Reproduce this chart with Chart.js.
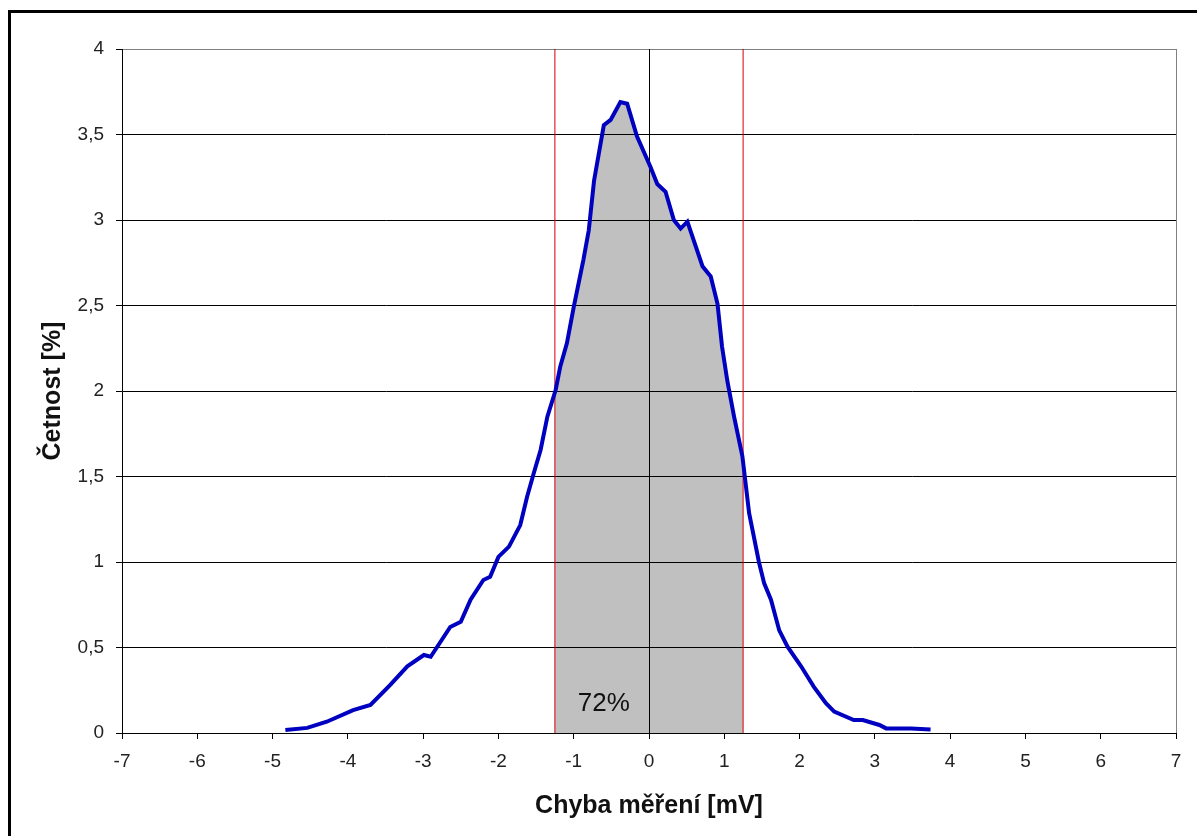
<!DOCTYPE html>
<html>
<head>
<meta charset="utf-8">
<script src="https://cdn.jsdelivr.net/npm/chart.js@4.4.0/dist/chart.umd.min.js"></script>
<style>
html, body { margin: 0; padding: 0; background: #fff; overflow: hidden; }
#wrap { position: relative; width: 1197px; height: 836px; }
#frame { position: absolute; left: 8px; top: 10px; width: 1200px; height: 840px; border: 3px solid #000; box-sizing: border-box; }
#graf { position: absolute; left: 0; top: 0; }
</style>
</head>
<body>
<div id="wrap">
  <div id="frame"></div>
  <canvas id="graf" width="1197" height="836"></canvas>
</div>
<script>
// Histogram chyby měření
const chyba = [-4.83, -4.54, -4.28, -3.93, -3.70, -3.44, -3.21, -2.99, -2.90, -2.64, -2.50, -2.37, -2.20, -2.11,
  -2.00, -1.86, -1.71, -1.62, -1.53, -1.44, -1.35, -1.24, -1.18, -1.09, -1.00, -0.87, -0.80, -0.73, -0.60,
  -0.51, -0.38, -0.29, -0.16, 0.02, 0.11, 0.22, 0.33, 0.42, 0.51, 0.71, 0.82, 0.91, 0.97, 1.04, 1.13, 1.24,
  1.33, 1.46, 1.53, 1.62, 1.73, 1.84, 2.02, 2.19, 2.35, 2.46, 2.72, 2.84, 3.06, 3.15, 3.48, 3.74];
const cetnost = [0.018, 0.03, 0.066, 0.134, 0.164, 0.28, 0.39, 0.456, 0.446, 0.62, 0.65, 0.78, 0.895, 0.914,
  1.03, 1.09, 1.216, 1.38, 1.52, 1.655, 1.85, 2.006, 2.14, 2.28, 2.49, 2.77, 2.94, 3.23, 3.555,
  3.585, 3.69, 3.68, 3.49, 3.31, 3.21, 3.165, 3.0, 2.95, 2.99, 2.73, 2.67, 2.51, 2.26, 2.06, 1.85, 1.62,
  1.285, 1.0, 0.875, 0.78, 0.60, 0.505, 0.39, 0.27, 0.174, 0.125, 0.076, 0.076, 0.047, 0.027, 0.027, 0.02];
const pasmo = [-1.25, 1.25];          // hranice vyznačeného pásma
const popisek = { text: '72%', x: -0.6, y: 0.17 };
const yPopisky = ['0', '0,5', '1', '1,5', '2', '2,5', '3', '3,5', '4'];

const body = chyba.map((x, i) => ({ x: x, y: cetnost[i] }));
const pismo = "'Liberation Sans', Arial, sans-serif";

const pasmoPlugin = {
  id: 'pasmo',
  beforeDraw(chart) {
    const { ctx, chartArea: a } = chart;
    ctx.save();
    ctx.fillStyle = '#fff';
    ctx.fillRect(a.left, a.top, a.right - a.left, a.bottom - a.top);
    ctx.strokeStyle = '#808080';
    ctx.lineWidth = 1;
    ctx.strokeRect(a.left + 0.5, a.top + 0.5, a.right - a.left, a.bottom - a.top);
    ctx.restore();
  },
  beforeDatasetsDraw(chart) {
    const { ctx, chartArea: a, scales } = chart;
    const x0 = scales.x.getPixelForValue(pasmo[0]);
    const x1 = scales.x.getPixelForValue(pasmo[1]);
    ctx.save();
    ctx.beginPath();
    ctx.rect(x0, a.top, x1 - x0, a.bottom - a.top);
    ctx.clip();
  },
  afterDatasetDraw(chart, args) {
    if (args.index !== 3) return;
    const { ctx, chartArea: a, scales } = chart;
    ctx.restore();
    // mřížka přes šedou plochu
    const x0 = scales.x.getPixelForValue(pasmo[0]);
    const x1 = scales.x.getPixelForValue(pasmo[1]);
    ctx.save();
    ctx.beginPath();
    ctx.rect(x0, a.top, x1 - x0, a.bottom - a.top);
    ctx.clip();
    scales.y.drawGrid(a);
    scales.x.drawGrid(a);
    ctx.restore();
  },
  afterDatasetsDraw(chart) {
    const { ctx, scales } = chart;
    ctx.save();
    ctx.font = '26px ' + pismo;
    ctx.fillStyle = '#111';
    ctx.textAlign = 'center';
    ctx.textBaseline = 'middle';
    ctx.fillText(popisek.text, scales.x.getPixelForValue(popisek.x), scales.y.getPixelForValue(popisek.y));
    ctx.restore();
  }
};

new Chart(document.getElementById('graf'), {
  type: 'scatter',
  data: {
    datasets: [
      { data: body, showLine: true, borderColor: '#0000c0', borderWidth: 4, pointRadius: 0, fill: false, tension: 0 },
      { data: [{ x: pasmo[0], y: 0 }, { x: pasmo[0], y: 4 }], showLine: true, borderColor: '#d00000', borderWidth: 1, pointRadius: 0 },
      { data: [{ x: pasmo[1], y: 0 }, { x: pasmo[1], y: 4 }], showLine: true, borderColor: '#d00000', borderWidth: 1, pointRadius: 0 },
      { data: body, showLine: true, borderWidth: 0, borderColor: 'rgba(0,0,0,0)', backgroundColor: '#c0c0c0', pointRadius: 0, fill: 'origin', tension: 0 }
    ]
  },
  options: {
    responsive: false,
    animation: false,
    devicePixelRatio: 1,
    layout: { padding: { left: 36, top: 49, right: 21, bottom: 14 } },
    plugins: { legend: { display: false }, tooltip: { enabled: false } },
    scales: {
      x: {
        type: 'linear', min: -7, max: 7,
        afterFit(s) { s.height = 836 - 14 - 733; },
        ticks: { stepSize: 1, color: '#222', padding: 11, font: { family: pismo, size: 19 } },
        grid: {
          color: c => (c.tick && c.tick.value === 0 ? '#000' : 'rgba(0,0,0,0)'),
          tickColor: '#000', tickLength: 6, lineWidth: 1
        },
        border: { color: '#000', width: 1 },
        title: { display: true, text: 'Chyba měření [mV]', color: '#111', padding: { top: 0, bottom: 1 },
          font: { family: pismo, size: 25, weight: 'bold' } }
      },
      y: {
        min: 0, max: 4,
        afterFit(s) { s.width = 122 - 36; },
        ticks: { stepSize: 0.5, color: '#222', padding: 12, font: { family: pismo, size: 19 },
          callback: (v, i) => yPopisky[i] },
        grid: {
          color: c => (c.tick && c.tick.value === 4 ? '#808080' : '#000'),
          tickColor: '#000', tickLength: 6, lineWidth: 1
        },
        border: { color: '#000', width: 1 },
        title: { display: true, text: 'Četnost [%]', color: '#111', padding: { top: 2, bottom: 0 },
          font: { family: pismo, size: 25, weight: 'bold' } }
      }
    }
  },
  plugins: [pasmoPlugin]
});
</script>
</body>
</html>
